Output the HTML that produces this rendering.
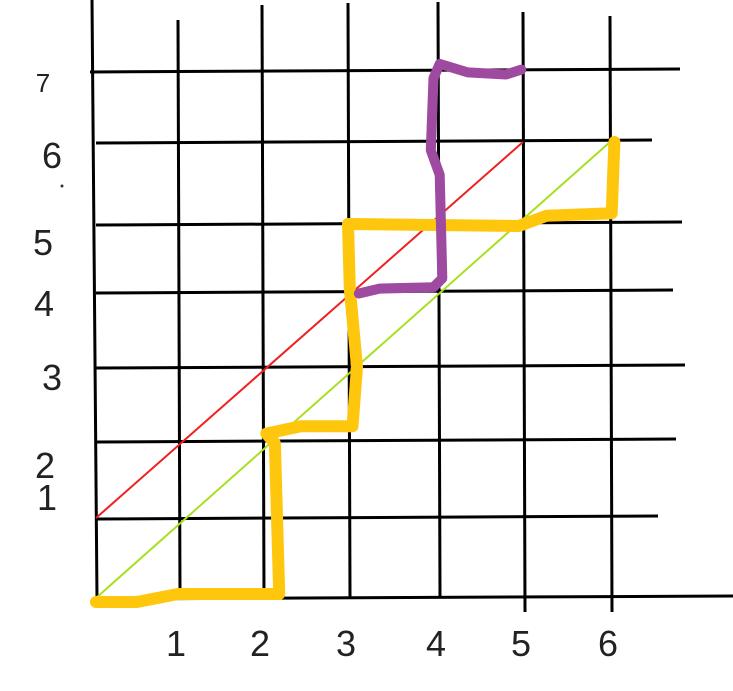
<!DOCTYPE html>
<html><head><meta charset="utf-8"><style>
body{margin:0;background:#fff;}
svg{display:block;}
text{font-family:"Liberation Sans","DejaVu Sans",sans-serif;fill:#222;}
</style></head><body>
<svg id="chart" width="733" height="691" viewBox="0 0 733 691">
<g id="grid"></g>
<g id="labels"></g>
<g id="series"></g>
<circle cx="62" cy="186" r="1.5" fill="#333"/>
</svg>
<script>
const xTicks=[1,2,3,4,5,6];
const yTicks=[1,2,3,4,5,6,7];
const redLine=[[0,1],[5,6]];
const greenLine=[[0,0],[6,6]];
const yellowPath=[[0,-0.05],[0.5,-0.05],[1,0.05],[2.2,0.05],[2.15,1.97],[2.05,2.1],[2.45,2.2],[3.05,2.2],[3.1,3],[3.02,4.05],[3,5],[4.95,4.97],[5.27,5.1],[6.02,5.13],[6.05,6]];
const purplePath=[[3.12,3.98],[3.35,4.05],[3.95,4.07],[4.05,4.2],[4.02,5.6],[3.92,5.9],[3.95,6.9],[4.02,7.1],[4.35,6.98],[4.8,6.95],[4.98,7.02]];
// scale anchors (pixel positions of grid lines)
const xPx=[96,178,262,348,438,523,610];
const yPx=[598,518,441,367,292,224,142,71];
function interp(v,arr){const i=Math.max(0,Math.min(arr.length-2,Math.floor(v)));return arr[i]+(v-i)*(arr[i+1]-arr[i]);}
function X(v){return interp(v,xPx);}
function Y(v){return interp(v,yPx);}
const NS="http://www.w3.org/2000/svg";
function mk(tag,attrs,parent){const e=document.createElementNS(NS,tag);for(const k in attrs)e.setAttribute(k,attrs[k]);parent.appendChild(e);return e;}
const grid=document.getElementById('grid');
const vTop=[0,20,5,3,2,12,16],vBot=[600,597,597,597,597,612,612];
for(let i=0;i<=6;i++){
 const l=mk('line',{x1:X(i)-(i===0?4:0),y1:vTop[i],x2:X(i)+(i===0?1:2),y2:vBot[i],stroke:'#000','stroke-width':3},grid);
 
 
}
const hEnd=[733,658,676,685,673,682,652,680];
for(let j=0;j<=7;j++){
 const l=mk('line',{x1:j===7?90:96,y1:Y(j)+1,x2:hEnd[j],y2:Y(j)-2,stroke:'#000','stroke-width':3},grid);
 
 
}
const labels=document.getElementById('labels');
xTicks.forEach(v=>{const t=mk('text',{x:X(v)-2,y:656,'font-size':36,'text-anchor':'middle'},labels);t.textContent=v;
 
 });
const yLabPos={1:[47,510],2:[45,478],3:[52,390],4:[44,316],5:[43,255],6:[52,168],7:[43,92]};
yTicks.forEach(v=>{const p=yLabPos[v];const t=mk('text',{x:p[0],y:p[1],'font-size':v===7?26:36,'text-anchor':'middle'},labels);t.textContent=v;
 
 });
const series=document.getElementById('series');
function pts(a){return a.map(p=>X(p[0]).toFixed(1)+','+Y(p[1]).toFixed(1)).join(' ');}
let e=mk('polyline',{points:pts(redLine),fill:'none',stroke:'#ee2020','stroke-width':2},series);


e=mk('polyline',{points:pts(greenLine),fill:'none',stroke:'#a8e020','stroke-width':2},series);


e=mk('polyline',{points:pts(yellowPath),fill:'none',stroke:'#ffc60e','stroke-width':12,'stroke-linejoin':'round','stroke-linecap':'round'},series);


e=mk('polyline',{points:pts(purplePath),fill:'none',stroke:'#9e4aa0','stroke-width':10,'stroke-linejoin':'round','stroke-linecap':'round'},series);


</script>
</body></html>
